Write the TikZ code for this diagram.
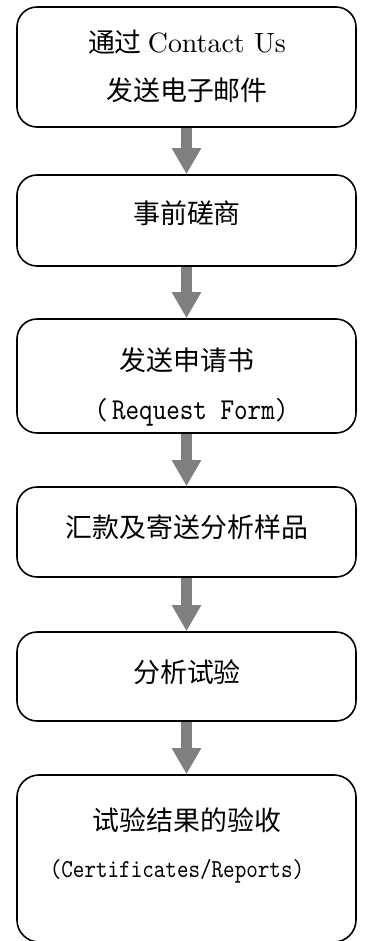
\documentclass[tikz,border=0pt]{standalone}
\usepackage{fontspec}
\newfontfamily\cjk{Noto Sans CJK SC}
\newfontfamily\latinrm{lmroman10-regular.otf}
\newfontfamily\latinmono{lmmono10-regular.otf}[FakeStretch=0.85]
\usetikzlibrary{arrows.meta}
\definecolor{arrowgray}{HTML}{808080}
\begin{document}
\begin{tikzpicture}[x=1bp,y=-1bp,
  box/.style={draw=black, line width=1.6bp, rounded corners=20bp, minimum width=339bp, inner sep=0pt},
  flow/.style={draw=arrowgray, line width=10.7bp, -{Triangle[width=27.6bp,length=26bp]}},
  zh/.style={font=\fontsize{27}{32}\selectfont\cjk, inner sep=0pt},
  monobig/.style={font=\fontsize{30.5}{34}\selectfont\latinmono, inner sep=0pt},
  monosmall/.style={font=\fontsize{26}{30}\selectfont\latinmono, inner sep=0pt}]
\useasboundingbox (0,0) rectangle (364,941);
\node[box, minimum height=120bp] (b1) at (186.5,67) {};
\node[box, minimum height=91bp] (b2) at (186.5,220.5) {};
\node[box, minimum height=114bp] (b3) at (186.5,376) {};
\node[box, minimum height=90bp] (b4) at (186.5,532) {};
\node[box, minimum height=89bp] (b5) at (186.5,676.5) {};
\node[box, minimum height=167bp, rounded corners=22bp] (b6) at (186.5,858.5) {};
\draw[flow] (b1.south) -- (b2.north);
\draw[flow] (b2.south) -- (b3.north);
\draw[flow] (b3.south) -- (b4.north);
\draw[flow] (b4.south) -- (b5.north);
\draw[flow] (b5.south) -- (b6.north);
\node[zh] (t1a) at (187,42) {通过\ {\fontsize{28}{32}\selectfont\latinrm Contact Us}};
\node[zh] (t1b) at (187,90) {发送电子邮件};
\node[zh] (t2) at (187,213) {事前磋商};
\node[zh] (t3a) at (187,360) {发送申请书};
\node[monobig] (t3b) at (191.5,412.5) {(\kern4bp Request Form)};
\node[zh] (t4) at (187,527) {汇款及寄送分析样品};
\node[zh] (t5) at (187,672) {分析试验};
\node[zh] (t6a) at (187,820) {试验结果的验收};
\node[monosmall] (t6b) at (177,871.5) {(Certificates/Reports)};
\end{tikzpicture}
\end{document}
